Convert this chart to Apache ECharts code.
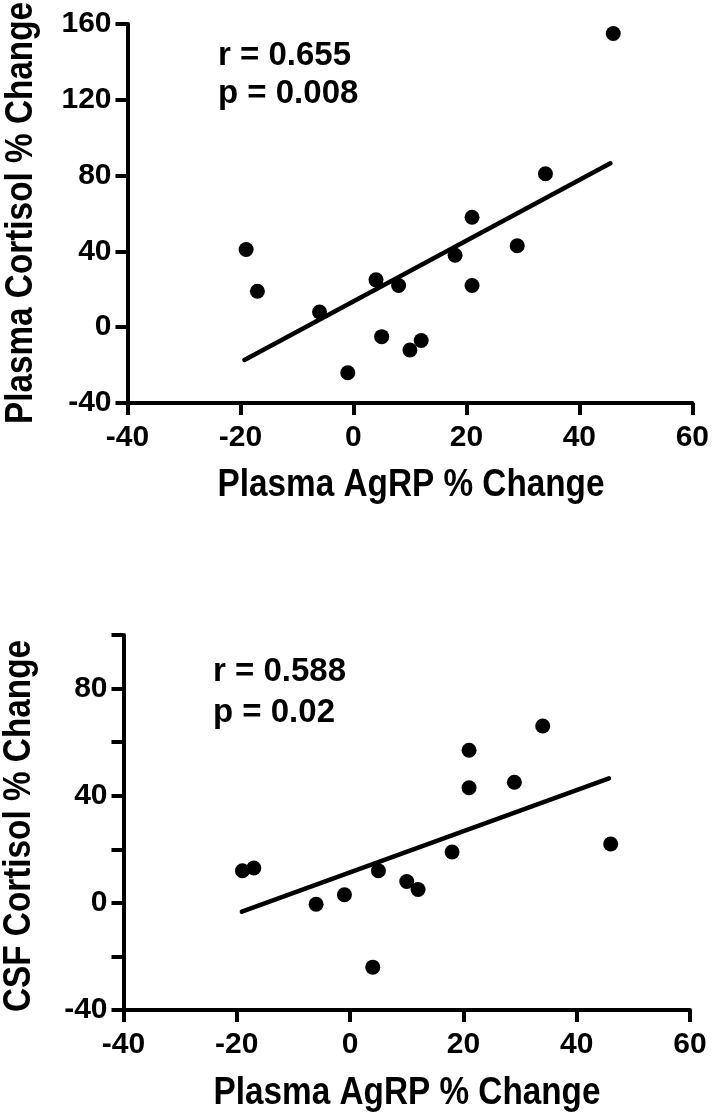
<!DOCTYPE html>
<html>
<head>
<meta charset="utf-8">
<script src="https://cdn.jsdelivr.net/npm/echarts@6/dist/echarts.min.js"></script>
<style>
  html, body { margin: 0; padding: 0; background: #fff; }
  #chart { width: 712px; height: 1120px; }
</style>
</head>
<body>
<div id="chart"></div>
<script>
// ---- Data ----
const xTitle = 'Plasma AgRP % Change';
const yTitleTop = 'Plasma Cortisol % Change';
const yTitleBottom = 'CSF Cortisol % Change';

const agrpTop = [-19, -17, -6, -1, 4, 5, 8, 10, 12, 18, 21, 21, 29, 34, 46];
const plasmaCortisol = [41, 19, 8, -24, 25, -5, 22, -12, -7, 38, 58, 22, 43, 81, 155];

const agrpBottom = [-19, -17, -6, -1, 4, 5, 10, 12, 18, 21, 21, 29, 34, 46];
const csfCortisol = [12, 13, -0.5, 3, -24, 12, 8, 5, 19, 57, 43, 45, 66, 22];

const fitTopX = [-19.3, 45.5];
const fitTopY = [-17.3, 86.5];
const fitBottomX = [-19.1, 45.7];
const fitBottomY = [-3.3, 46.5];

const statsTop = ['r = 0.655', 'p = 0.008'];
const statsBottom = ['r = 0.588', 'p = 0.02'];

const xTicks = { min: -40, max: 60, interval: 20 };
const yTopTicks = { min: -40, max: 160, interval: 40 };
const yBottomTicks = { min: -40, max: 100, interval: 20, labelEvery: 40 };

// ---- Condensed bold titles: Liberation Sans bold, squeezed horizontally ----
const baseFont = 'Liberation Sans';
const titleSize = 39;
const titleScale = (function () {
  const c = document.createElement('canvas').getContext('2d');
  c.font = 'bold ' + titleSize + 'px "' + baseFont + '"';
  return 387 / c.measureText(xTitle).width;
})();

const zip = (xs, ys) => xs.map((x, i) => [x, ys[i]]);
const axisLineStyle = { color: '#000', width: 4 };

function makeX(gridIndex) {
  return {
    type: 'value', gridIndex,
    min: xTicks.min, max: xTicks.max, interval: xTicks.interval,
    axisLine: { show: true, onZero: false, lineStyle: axisLineStyle },
    axisTick: { show: true, length: 12, lineStyle: { color: '#000', width: 4 } },
    axisLabel: { margin: 20, fontFamily: baseFont, fontWeight: 'bold', fontSize: 30, color: '#000' },
    splitLine: { show: false }
  };
}
function makeY(gridIndex, ticks) {
  return {
    type: 'value', gridIndex,
    min: ticks.min, max: ticks.max, interval: ticks.interval,
    axisLine: { show: true, onZero: false, lineStyle: axisLineStyle },
    axisTick: { show: true, length: 12, lineStyle: { color: '#000', width: 4 } },
    axisLabel: {
      margin: 16, fontFamily: baseFont, fontWeight: 'bold', fontSize: 30, color: '#000',
      showMaxLabel: true, showMinLabel: true,
      formatter: v => (ticks.labelEvery && v % ticks.labelEvery !== 0) ? '' : String(v)
    },
    splitLine: { show: false }
  };
}

function statText(lines, x, y0, step) {
  return lines.map((t, i) => ({
    type: 'text', left: x, top: y0 + i * step,
    style: { text: t, fontFamily: baseFont, fontWeight: 'bold', fontSize: 33, fill: '#000' }
  }));
}
function titleText(text, cx, cy, rotated) {
  return {
    type: 'text', x: cx, y: cy,
    rotation: rotated ? Math.PI / 2 : 0,
    scaleX: titleScale, scaleY: 1,
    style: {
      text, fontFamily: baseFont, fontWeight: 'bold', fontSize: titleSize, fill: '#000',
      align: 'center', verticalAlign: 'middle'
    }
  };
}

const chart = echarts.init(document.getElementById('chart'), null, { renderer: 'canvas' });
chart.setOption({
  animation: false,
  backgroundColor: '#fff',
  grid: [
    { left: 127.5, top: 24, width: 566.5, height: 379, containLabel: false },
    { left: 123.5, top: 635, width: 566.5, height: 375, containLabel: false }
  ],
  xAxis: [makeX(0), makeX(1)],
  yAxis: [makeY(0, yTopTicks), makeY(1, yBottomTicks)],
  series: [
    { type: 'scatter', xAxisIndex: 0, yAxisIndex: 0, data: zip(agrpTop, plasmaCortisol),
      symbolSize: 15, itemStyle: { color: '#000', opacity: 1 } },
    { type: 'line', xAxisIndex: 0, yAxisIndex: 0, data: zip(fitTopX, fitTopY),
      showSymbol: false, symbol: 'none', lineStyle: { color: '#000', width: 4.5, cap: 'round' } },
    { type: 'scatter', xAxisIndex: 1, yAxisIndex: 1, data: zip(agrpBottom, csfCortisol),
      symbolSize: 15, itemStyle: { color: '#000', opacity: 1 } },
    { type: 'line', xAxisIndex: 1, yAxisIndex: 1, data: zip(fitBottomX, fitBottomY),
      showSymbol: false, symbol: 'none', lineStyle: { color: '#000', width: 4.5, cap: 'round' } }
  ],
  graphic: [
    ...statText(statsTop, 218, 39, 38),
    ...statText(statsBottom, 213, 655, 41),
    titleText(xTitle, 411, 485, false),
    titleText(xTitle, 407, 1093, false),
    titleText(yTitleTop, 21, 213, true),
    titleText(yTitleBottom, 19, 826, true)
  ]
});
</script>
</body>
</html>
